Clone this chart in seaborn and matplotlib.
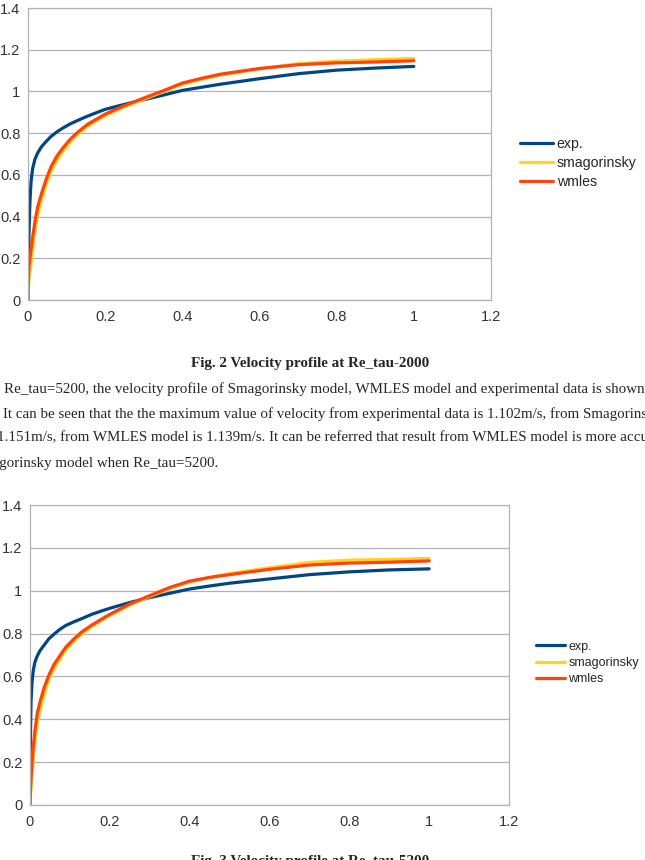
import pandas as pd
import matplotlib
matplotlib.use('Agg')
import matplotlib.pyplot as plt
import seaborn as sns

# distance from wall (y/delta), shared by all series
x_pos = [0, 0.001, 0.0025, 0.005, 0.008, 0.012, 0.018, 0.025, 0.035, 0.047,
         0.06, 0.075, 0.09, 0.11, 0.13, 0.155, 0.18, 0.2, 0.25, 0.3,
         0.35, 0.4, 0.45, 0.5, 0.6, 0.7, 0.8, 0.9, 1.0]

# Re_tau = 2000
exp_2000 = [0, 0.2, 0.32, 0.47, 0.57, 0.63, 0.675, 0.705, 0.735, 0.76,
            0.785, 0.806, 0.824, 0.845, 0.862, 0.882, 0.9, 0.914, 0.938, 0.96,
            0.982, 1.005, 1.02, 1.035, 1.061, 1.085, 1.102, 1.112, 1.12]
smag_2000 = [0, 0.05, 0.095, 0.135, 0.175, 0.235, 0.33, 0.405, 0.48, 0.555,
             0.617, 0.67, 0.712, 0.758, 0.795, 0.833, 0.862, 0.883, 0.926, 0.962,
             0.998, 1.034, 1.058, 1.078, 1.108, 1.133, 1.145, 1.152, 1.158]
wmles_2000 = [0, 0.1, 0.16, 0.2, 0.245, 0.3, 0.375, 0.445, 0.51, 0.578,
              0.64, 0.69, 0.728, 0.772, 0.806, 0.843, 0.87, 0.891, 0.932, 0.968,
              1.003, 1.04, 1.063, 1.083, 1.11, 1.128, 1.137, 1.141, 1.147]

# Re_tau = 5200
exp_5200 = [0, 0.3, 0.48, 0.57, 0.625, 0.665, 0.695, 0.72, 0.745, 0.775,
            0.797, 0.82, 0.838, 0.855, 0.87, 0.89, 0.906, 0.918, 0.945, 0.968,
            0.988, 1.008, 1.022, 1.035, 1.055, 1.075, 1.088, 1.097, 1.102]
smag_5200 = [0, 0.03, 0.08, 0.14, 0.21, 0.285, 0.375, 0.44, 0.51, 0.585,
             0.635, 0.68, 0.725, 0.765, 0.80, 0.832, 0.862, 0.884, 0.933, 0.973,
             1.01, 1.04, 1.062, 1.08, 1.107, 1.132, 1.143, 1.146, 1.151]
wmles_5200 = [0, 0.06, 0.125, 0.19, 0.27, 0.34, 0.425, 0.48, 0.545, 0.605,
              0.655, 0.697, 0.737, 0.775, 0.808, 0.84, 0.868, 0.89, 0.938, 0.977,
              1.015, 1.045, 1.062, 1.075, 1.10, 1.12, 1.129, 1.133, 1.139]

series_names = ['exp.', 'smagorinsky', 'wmles']
colors = ['#004586', '#ffd320', '#ff420e']
x_ticks = [0, 0.2, 0.4, 0.6, 0.8, 1, 1.2]
y_ticks = [0, 0.2, 0.4, 0.6, 0.8, 1, 1.2, 1.4]
tick_text = ['0', '0.2', '0.4', '0.6', '0.8', '1', '1.2', '1.4']

caption_1 = 'Fig. 2 Velocity profile at Re_tau-2000'
caption_2 = 'Fig. 3 Velocity profile at Re_tau-5200'
para_lines = [
    'Re_tau=5200, the velocity profile of Smagorinsky model, WMLES model and experimental data is shown',
    'It can be seen that the the maximum value of velocity from experimental data is 1.102m/s, from Smagorinsky model is',
    '1.151m/s, from WMLES model is 1.139m/s. It can be referred that result from WMLES model is more accurate than',
    'than Smagorinsky model when Re_tau=5200.',
]

W, H = 645, 860


def make_df(series):
    rows = []
    for name, vals in zip(series_names, series):
        for xv, yv in zip(x_pos, vals):
            rows.append({'x': xv, 'u': yv, 'series': name})
    return pd.DataFrame(rows)


def draw_chart(fig, rect_px, series, legend_px, fsize):
    left, top, right, bottom = rect_px
    ax = fig.add_axes([left / W, 1 - bottom / H, (right - left) / W, (bottom - top) / H])
    df = make_df(series)
    sns.lineplot(data=df, x='x', y='u', hue='series', palette=colors, hue_order=series_names,
                 estimator=None, sort=False, linewidth=2.3, ax=ax)
    ax.set_xlim(0, 1.2)
    ax.set_ylim(0, 1.4)
    ax.set_xticks(x_ticks, tick_text[:7])
    ax.set_yticks(y_ticks, tick_text)
    ax.set_xlabel('')
    ax.set_ylabel('')
    ax.grid(axis='y', color='#b3b3b3', linewidth=0.9)
    ax.grid(axis='x', visible=False)
    ax.set_axisbelow(True)
    for s in ax.spines.values():
        s.set_color('#b3b3b3')
        s.set_linewidth(0.9)
    ax.tick_params(length=2.5, width=0.8, color='#b3b3b3', labelsize=10.5,
                   labelcolor='#333333')
    ax.tick_params(axis='x', pad=5)
    ax.tick_params(axis='y', pad=3)
    leg = ax.legend(loc='center left', bbox_to_anchor=(legend_px[0] / W, 1 - legend_px[1] / H),
                    bbox_transform=fig.transFigure, frameon=False, fontsize=fsize,
                    handlelength=2.3, handletextpad=0.3, labelspacing=0.35,
                    borderpad=0, borderaxespad=0)
    for line in leg.get_lines():
        line.set_linewidth(2.3)
    return ax


sns.set_style('white')
plt.rcParams['font.family'] = ['Liberation Sans', 'DejaVu Sans']

fig = plt.figure(figsize=(W / 100, H / 100), dpi=100)

draw_chart(fig, (28, 8, 491, 300), [exp_2000, smag_2000, wmles_2000], (520, 163), 10.2)
draw_chart(fig, (30, 505, 509, 805), [exp_5200, smag_5200, wmles_5200], (536, 663), 9)

serif = ['Liberation Serif', 'DejaVu Serif']
fig.text(310 / W, 1 - 364 / H, caption_1, ha='center', va='center', fontsize=10.9,
         fontweight='bold', family=serif)
line_y = [389, 414, 438, 463]
line_x = [4, 3, -3, 218]
for i, (txt, yy, xx) in enumerate(zip(para_lines, line_y, line_x)):
    ha = 'right' if i == 3 else 'left'
    fig.text(xx / W, 1 - yy / H, txt, ha=ha, va='center', fontsize=10.85, family=serif)
fig.text(310 / W, 1 - 855 / H, caption_2, ha='center', va='top', fontsize=10.9,
         fontweight='bold', family=serif)

fig.savefig('out.png', dpi=100)
